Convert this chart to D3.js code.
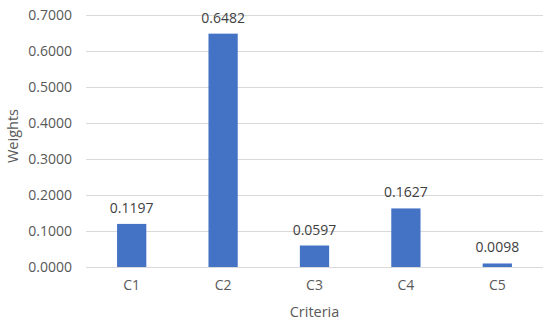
<!DOCTYPE html>
<html>
<head>
<meta charset="utf-8">
<script src="https://cdn.jsdelivr.net/npm/d3@7"></script>
<style>
  body { margin: 0; background: #fff; }
</style>
</head>
<body>
<div id="chart"></div>
<script>
// Chart data
var criteria = ["C1", "C2", "C3", "C4", "C5"];
var weights = [0.1197, 0.6482, 0.0597, 0.1627, 0.0098];
var yTicks = [0, 0.1, 0.2, 0.3, 0.4, 0.5, 0.6, 0.7];

var data = criteria.map(function(c, i) { return { name: c, value: weights[i] }; });

var margin = { top: 15, right: 7, bottom: 59, left: 86 };
var width = 550 - margin.left - margin.right;
var height = 326 - margin.top - margin.bottom;
var font = "'Open Sans', sans-serif";

var svg = d3.select("#chart")
  .append("svg")
  .attr("width", 550)
  .attr("height", 326)
  .append("g")
  .attr("transform", "translate(" + margin.left + "," + margin.top + ")");

var x = d3.scaleBand()
  .domain(criteria)
  .range([0, width])
  .paddingInner(0.68)
  .paddingOuter(0.34);

var y = d3.scaleLinear()
  .domain([0, 0.7])
  .range([height, 0]);

// Gridlines
svg.append("g")
  .attr("class", "grid")
  .call(d3.axisLeft(y).tickValues(yTicks).tickSize(-width).tickFormat(""))
  .call(function(g) { g.select(".domain").remove(); })
  .selectAll("line")
  .attr("stroke", "#d9d9d9")
  .attr("stroke-width", 1);

// Y axis labels
svg.append("g")
  .attr("class", "y-axis")
  .call(d3.axisLeft(y).tickValues(yTicks).tickSize(0).tickPadding(14).tickFormat(d3.format(".4f")))
  .call(function(g) { g.select(".domain").remove(); })
  .selectAll("text")
  .style("font-family", font)
  .style("font-size", "14px")
  .attr("fill", "#595959");

// X axis labels
svg.append("g")
  .attr("class", "x-axis")
  .attr("transform", "translate(0," + height + ")")
  .call(d3.axisBottom(x).tickSize(0).tickPadding(13))
  .call(function(g) { g.select(".domain").remove(); })
  .selectAll("text")
  .style("font-family", font)
  .style("font-size", "14px")
  .attr("fill", "#595959");

// Bars
svg.selectAll(".bar")
  .data(data)
  .enter().append("rect")
  .attr("class", "bar")
  .attr("x", function(d) { return x(d.name); })
  .attr("y", function(d) { return y(d.value); })
  .attr("width", x.bandwidth())
  .attr("height", function(d) { return height - y(d.value); })
  .attr("fill", "#4472c4");

// Value labels
svg.selectAll(".label")
  .data(data)
  .enter().append("text")
  .attr("class", "label")
  .attr("x", function(d) { return x(d.name) + x.bandwidth() / 2; })
  .attr("y", function(d) { return y(d.value) - 11; })
  .attr("text-anchor", "middle")
  .style("font-family", font)
  .style("font-size", "14px")
  .attr("fill", "#404040")
  .text(function(d) { return d3.format(".4f")(d.value); });

// Axis titles
svg.append("text")
  .attr("x", width / 2)
  .attr("y", height + 50)
  .attr("text-anchor", "middle")
  .style("font-family", font)
  .style("font-size", "14.5px")
  .attr("fill", "#595959")
  .text("Criteria");

svg.append("text")
  .attr("transform", "rotate(-90)")
  .attr("x", -height / 2 + 5)
  .attr("y", -margin.left + 18)
  .attr("text-anchor", "middle")
  .style("font-family", font)
  .style("font-size", "14.5px")
  .attr("fill", "#595959")
  .text("Weights");
</script>
</body>
</html>
